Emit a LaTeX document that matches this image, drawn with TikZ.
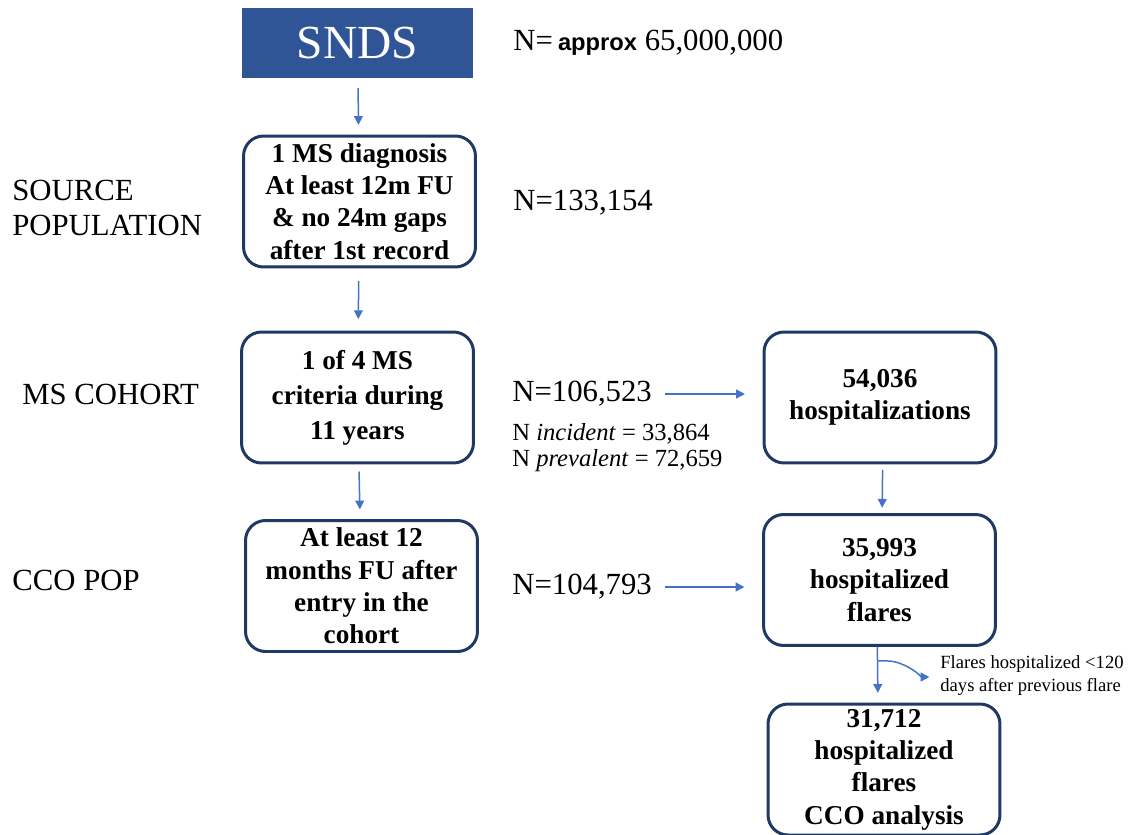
\documentclass[tikz,border=0pt]{standalone}
\usepackage{fontspec}
\setmainfont{Liberation Serif}
\newfontfamily\arialfont{Liberation Sans}
\usetikzlibrary{arrows.meta,calc,positioning}
\definecolor{sndsblue}{HTML}{2F5597}
\definecolor{navy}{HTML}{203864}
\definecolor{flowblue}{HTML}{4472C4}
\tikzset{
stage/.style={
	  draw=navy, line width=1.7pt, rounded corners=0.4cm, fill=white,
	    align=center, minimum width=4.64cm, minimum height=2.62cm,
    inner sep=0pt, font=\fontsize{15.5}{18.4}\selectfont\bfseries},
sndsbox/.style={fill=sndsblue, text=white, minimum width=4.62cm,
	  minimum height=1.4cm, inner sep=0pt, font=\fontsize{27}{30}\selectfont},
rowlabel/.style={inner sep=0pt, align=left, anchor=west,
	  font=\fontsize{17.5}{20.4}\selectfont},
count/.style={inner sep=0pt, anchor=west, font=\fontsize{17.5}{20}\selectfont},
flow/.style={draw=flowblue, line width=0.85pt,
	  -{Triangle[length=5pt,width=5pt]}}
}
\newcommand{\approxword}{{\arialfont\bfseries\fontsize{13.5}{15}\selectfont approx}}

\begin{document}
\begin{tikzpicture}[x=0.02cm, y=-0.02cm]
	\useasboundingbox (0,0) rectangle (1133,835);
	% left column
	\node[sndsbox] (snds) at (357.5,43) {SNDS};
	\node[stage] (source) at (359.5,201.5) {1 MS diagnosis\\At least 12m FU\\
		\& no 24m gaps\\after 1st record};
	\node[stage, font=\fontsize{15.5}{20}\selectfont\bfseries]
		(cohort) at (357.5,397.5) {1 of 4 MS\\criteria during\\11 years};
	\node[stage] (ccopop) at (361.5,586) {At least 12\\months FU after\\
		entry in the\\cohort};
	% right column
	\node[stage] (hosp) at (880,397.5) {54,036\\hospitalizations};
	\node[stage] (flares) at (879.5,580) {35,993\\hospitalized\\flares};
	\node[stage] (analysis) at (884,769.5) {31,712\\hospitalized\\flares\\
		CCO analysis};
	% row labels
	\node[rowlabel] (lsource) at (12,208) {SOURCE\\POPULATION};
	\node[rowlabel] (lcohort) at (22,394) {MS COHORT};
	\node[rowlabel] (lccopop) at (12,580) {CCO POP};
	% counts
	\node[count] (nsnds) at (513,43) {N=\,\approxword\ 65,000,000};
	\node[count] (nsource) at (513,203) {N=133,154};
	\node[count] (ncohort) at (512,394) {N=106,523};
	\node[count, align=left, font=\fontsize{14}{14.8}\selectfont]
		(nsplit) at (512,448) {N \textit{incident} = 33,864\\N \textit{prevalent} = 72,659};
	\node[count] (nccopop) at (512,587) {N=104,793};
	\node[count, align=left, font=\fontsize{10.6}{13.4}\selectfont]
		(excl) at (940,675.5) {Flares hospitalized <120\\days after previous flare};
	% arrows
	\draw[flow, shorten <=5.5pt, shorten >=5.5pt] (snds) -- (source);
	\draw[flow, shorten <=7pt, shorten >=6.5pt] (source) -- (cohort);
	\draw[flow, shorten <=4pt, shorten >=5.5pt] (cohort) -- (ccopop);
	\draw[flow, shorten <=7.5pt, shorten >=10pt] (ncohort.east) -- (ncohort.east -| hosp.west);
	\draw[flow, shorten <=7.5pt, shorten >=10pt] (nccopop.east) -- (nccopop.east -| flares.west);
	\draw[flow, shorten <=3pt, shorten >=3pt] ([xshift=1.5pt]hosp.south) -- ([xshift=1.5pt]flares.north);
	\coordinate (split) at ($(flares.south)+(-2,14)$);
	\draw[flow, shorten <=-8pt, shorten >=5.5pt] (split) -- ($(analysis.north)+(-6,0)$);
	\draw[flow, shorten >=6pt] (split) -- ++(10,0) .. controls ++(17,0) and ++(-17,0) .. (excl.west |- 0,677);
\end{tikzpicture}
\end{document}
